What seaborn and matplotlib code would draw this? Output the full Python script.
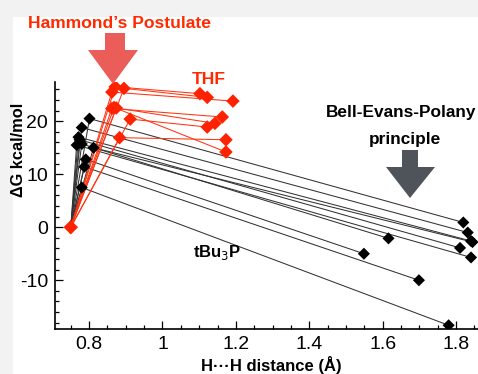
import numpy as np
import pandas as pd
import matplotlib
matplotlib.use("Agg")
import matplotlib.pyplot as plt
from matplotlib.patches import Polygon, Rectangle
from matplotlib.ticker import MultipleLocator, FixedLocator
import seaborn as sns

# ---------------- data ----------------
origin_x = 0.75
origin_y = 0.0

# black (gas phase) series: transition state -> product
black_ts_x = [0.801, 0.780, 0.771, 0.774, 0.780, 0.766, 0.812, 0.791, 0.787, 0.780]
black_ts_y = [20.5, 18.8, 17.0, 16.5, 15.7, 15.5, 15.0, 12.8, 11.4, 7.5]
black_pr_x = [1.820, 1.832, 1.841, 1.811, 1.616, 1.841, 1.845, 1.549, 1.699, 1.780]
black_pr_y = [0.9, -1.0, -2.6, -3.9, -2.1, -5.7, -2.8, -5.0, -10.0, -18.5]

# red (THF) series: transition state -> product
red_ts_x = [0.871, 0.895, 0.862, 0.862, 0.874, 0.912, 0.883, 0.868]
red_ts_y = [26.5, 26.2, 25.5, 22.4, 22.5, 20.4, 16.9, 22.6]
red_pr_x = [1.102, 1.122, 1.192, 1.163, 1.143, 1.122, 1.173, 1.173]
red_pr_y = [25.2, 24.5, 23.8, 20.8, 19.6, 18.9, 16.5, 14.2]

x_ticks = [0.8, 1.0, 1.2, 1.4, 1.6, 1.8]
x_tick_labels = ["0.8", "1", "1.2", "1.4", "1.6", "1.8"]
y_ticks = [-10, 0, 10, 20]
y_tick_labels = ["-10", "0", "10", "20"]

# ---------------- build tidy table ----------------
rows = []
for i, (tx, ty, px, py) in enumerate(zip(black_ts_x, black_ts_y, black_pr_x, black_pr_y)):
    for k, (xx, yy) in enumerate([(origin_x, origin_y), (tx, ty), (px, py)]):
        rows.append(dict(series="gas", unit=f"b{i}", order=k, x=xx, y=yy))
for i, (tx, ty, px, py) in enumerate(zip(red_ts_x, red_ts_y, red_pr_x, red_pr_y)):
    for k, (xx, yy) in enumerate([(origin_x, origin_y), (tx, ty), (px, py)]):
        rows.append(dict(series="THF", unit=f"r{i}", order=k, x=xx, y=yy))
df = pd.DataFrame(rows)

W, H = 478, 374
fig = plt.figure(figsize=(W / 100, H / 100), dpi=100)
fig.patch.set_facecolor("#f2f2f2")
fig.add_artist(Rectangle((13 / W, 0), 1, 1 - 17 / H, transform=fig.transFigure,
                         facecolor="white", edgecolor="none", zorder=0))

ax = fig.add_axes([55 / W, (H - 329) / H, (W - 55) / W, (329 - 82) / H])
ax.set_facecolor("none")

palette = {"gas": "#333333", "THF": "#ff3311"}
sns.lineplot(data=df, x="x", y="y", hue="series", units="unit", estimator=None,
             sort=False, palette=palette, linewidth=0.75, legend=False, ax=ax, zorder=2)

pts = df[df["order"] > 0]
sns.scatterplot(data=pts[pts["series"] == "gas"], x="x", y="y", color="black",
                marker="D", s=38, edgecolor="none", legend=False, ax=ax, zorder=4)
sns.scatterplot(data=pts[pts["series"] == "THF"], x="x", y="y", color="#ff2200",
                marker="D", s=48, edgecolor="none", legend=False, ax=ax, zorder=5)
ax.scatter([origin_x], [origin_y], marker="D", s=55, color="#ff2200", zorder=6, edgecolor="none")

ax.set_xlim(0.707, 1.86)
ax.set_ylim(-19.2, 27.4)
ax.xaxis.set_major_locator(FixedLocator(x_ticks))
ax.set_xticklabels(x_tick_labels)
ax.yaxis.set_major_locator(FixedLocator(y_ticks))
ax.set_yticklabels(y_tick_labels)
ax.xaxis.set_minor_locator(MultipleLocator(0.05))
ax.yaxis.set_minor_locator(MultipleLocator(2))
ax.tick_params(which="both", direction="in", width=0.9, colors="black")
ax.tick_params(which="major", length=6, labelsize=14, pad=5)
ax.tick_params(which="minor", length=3)
for lab in ax.get_xticklabels() + ax.get_yticklabels():
    lab.set_fontfamily("Liberation Sans")
for s in ["top", "right"]:
    ax.spines[s].set_visible(False)
for s in ["left", "bottom"]:
    ax.spines[s].set_linewidth(1.2)
    ax.spines[s].set_color("black")

ax.set_xlabel("H\u00b7\u00b7\u00b7H distance (\u00c5)", fontsize=12, fontweight="bold",
              fontfamily="Liberation Sans")
ax.set_ylabel("\u0394G kcal/mol", fontsize=11.8, fontweight="bold",
              fontfamily="Liberation Sans")
ax.xaxis.set_label_coords((271 - 55) / 423, -(365 - 329) / 247)
ax.yaxis.set_label_coords((19 - 55) / 423, (329 - 150) / 247)
ax.xaxis.label.set_va("center")
ax.yaxis.label.set_va("center")


def fx(px):
    return px / W


def fy(py):
    return 1 - py / H


def arrow(xs0, xs1, ys0, xh0, xh1, yh, xt, yt, color):
    verts = [(xs0, ys0), (xs1, ys0), (xs1, yh), (xh1, yh), (xt, yt), (xh0, yh), (xs0, yh)]
    verts = [(fx(a), fy(b)) for a, b in verts]
    fig.add_artist(Polygon(verts, closed=True, transform=fig.transFigure,
                           facecolor=color, edgecolor="none", zorder=7))


arrow(105, 125, 33, 88, 138, 50, 113, 84, "#ea5d59")
arrow(402, 418, 150, 386, 435, 167, 410, 198, "#4f545b")

fig.text(fx(119), fy(24), "Hammond\u2019s Postulate", color="#ff2a00", fontsize=12.6,
         fontweight="bold", fontfamily="Liberation Sans", ha="center", va="center")
fig.text(fx(209), fy(80), "THF", color="#ff2a00", fontsize=12.6,
         fontweight="bold", fontfamily="Liberation Sans", ha="center", va="center")
fig.text(fx(401), fy(112), "Bell-Evans-Polany", color="black", fontsize=12.4,
         fontweight="bold", fontfamily="Liberation Sans", ha="center", va="center")
fig.text(fx(405), fy(140), "principle", color="black", fontsize=12.4,
         fontweight="bold", fontfamily="Liberation Sans", ha="center", va="center")
fig.text(fx(193), fy(252), "tBu$_3$P", color="black", fontsize=12,
         fontweight="bold", fontfamily="Liberation Sans", ha="left", va="center")

fig.savefig("out.png", dpi=100, facecolor=fig.get_facecolor())
